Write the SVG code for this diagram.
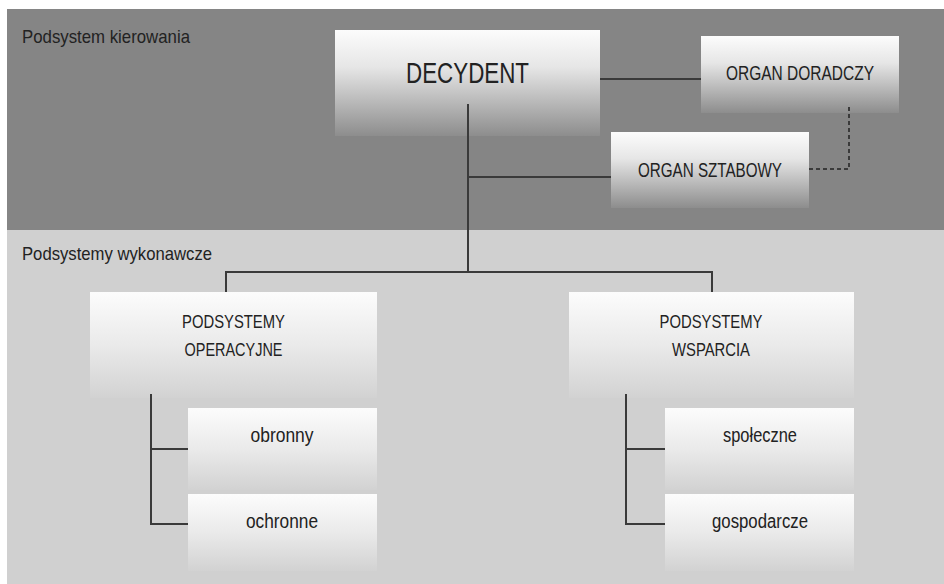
<svg xmlns="http://www.w3.org/2000/svg" width="944" height="584" viewBox="0 0 944 584">
  <defs>
    <linearGradient id="gDark" x1="0" y1="0" x2="0" y2="1">
      <stop offset="0" stop-color="#fcfcfc"/>
      <stop offset="0.35" stop-color="#e6e6e6"/>
      <stop offset="0.7" stop-color="#b6b6b6"/>
      <stop offset="1" stop-color="#8d8d8d"/>
    </linearGradient>
    <linearGradient id="gLight" x1="0" y1="0" x2="0" y2="1">
      <stop offset="0" stop-color="#fcfcfc"/>
      <stop offset="0.5" stop-color="#eaeaea"/>
      <stop offset="1" stop-color="#d2d2d2"/>
    </linearGradient>
    <style>
      .t { font-family: "Liberation Sans", Arial, sans-serif; fill: #222222; }
      .sec { font-size: 19px; }
      .lbl { font-size: 20px; text-anchor: middle; }
      .hd { font-size: 19px; text-anchor: middle; }
      .big { font-size: 30px; text-anchor: middle; }
      .org { font-size: 20px; text-anchor: middle; }
      .ln { stroke: #3a3a3a; stroke-width: 2; fill: none; }
      .dash { stroke: #3a3a3a; stroke-width: 2; fill: none; stroke-dasharray: 4 3; }
    </style>
  </defs>

  <rect x="0" y="0" width="944" height="584" fill="#ffffff"/>
  <g id="bands">
    <rect x="7" y="9" width="937" height="221" fill="#858585"/>
    <rect x="7" y="230" width="937" height="354" fill="#d0d0d0"/>
    <text class="t sec" x="22" y="43" textLength="168" lengthAdjust="spacingAndGlyphs">Podsystem kierowania</text>
    <text class="t sec" x="22" y="260" textLength="190" lengthAdjust="spacingAndGlyphs">Podsystemy wykonawcze</text>
  </g>

  <g id="decydent">
    <rect x="335" y="30" width="265" height="106" fill="url(#gDark)"/>
    <text class="t big" x="467.5" y="83" textLength="123" lengthAdjust="spacingAndGlyphs">DECYDENT</text>
  </g>
  <g id="organ-doradczy">
    <rect x="701" y="36" width="198" height="77" fill="url(#gDark)"/>
    <text class="t org" x="800" y="80" textLength="148" lengthAdjust="spacingAndGlyphs">ORGAN DORADCZY</text>
  </g>
  <g id="organ-sztabowy">
    <rect x="611" y="132" width="198" height="76" fill="url(#gDark)"/>
    <text class="t org" x="710" y="177" textLength="144" lengthAdjust="spacingAndGlyphs">ORGAN SZTABOWY</text>
  </g>

  <g id="podsystemy-operacyjne">
    <rect x="90" y="292" width="287" height="106" fill="url(#gLight)"/>
    <text class="t hd" x="233.5" y="328" textLength="103" lengthAdjust="spacingAndGlyphs">PODSYSTEMY</text>
    <text class="t hd" x="233.5" y="356" textLength="98" lengthAdjust="spacingAndGlyphs">OPERACYJNE</text>
  </g>
  <g id="obronny">
    <rect x="188" y="408" width="189" height="82" fill="url(#gLight)"/>
    <text class="t lbl" x="282" y="442" textLength="63" lengthAdjust="spacingAndGlyphs">obronny</text>
  </g>
  <g id="ochronne">
    <rect x="188" y="494" width="189" height="77" fill="url(#gLight)"/>
    <text class="t lbl" x="282" y="528" textLength="72" lengthAdjust="spacingAndGlyphs">ochronne</text>
  </g>

  <g id="podsystemy-wsparcia">
    <rect x="569" y="292" width="285" height="106" fill="url(#gLight)"/>
    <text class="t hd" x="711" y="328" textLength="103" lengthAdjust="spacingAndGlyphs">PODSYSTEMY</text>
    <text class="t hd" x="711" y="356" textLength="78" lengthAdjust="spacingAndGlyphs">WSPARCIA</text>
  </g>
  <g id="spoleczne">
    <rect x="665" y="408" width="189" height="82" fill="url(#gLight)"/>
    <text class="t lbl" x="760" y="442" textLength="74" lengthAdjust="spacingAndGlyphs">społeczne</text>
  </g>
  <g id="gospodarcze">
    <rect x="665" y="494" width="189" height="77" fill="url(#gLight)"/>
    <text class="t lbl" x="760" y="528" textLength="96" lengthAdjust="spacingAndGlyphs">gospodarcze</text>
  </g>

  <g id="connectors">
    <path class="ln" d="M600 79 H701"/>
    <path class="ln" d="M468 104 V272"/>
    <path class="ln" d="M468 177 H611"/>
    <path class="ln" d="M226 292 V272 H712 V292"/>
    <path class="dash" d="M849 107 V169 H809"/>
    <path class="ln" d="M151 394 V524 H188 M151 449 H188"/>
    <path class="ln" d="M626 394 V524 H665 M626 449 H665"/>
  </g>
</svg>
